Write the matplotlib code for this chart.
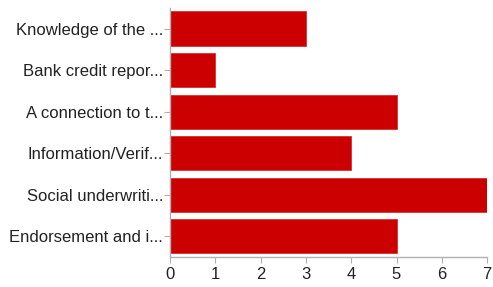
import matplotlib
matplotlib.use("Agg")
from matplotlib import pyplot as plt

# bar chart of responses (top to bottom)
labels = ["Knowledge of the ...", "Bank credit repor...", "A connection to t...",
          "Information/Verif...", "Social underwriti...", "Endorsement and i..."]
counts = [3, 1, 5, 4, 7, 5]
xticks = [0, 1, 2, 3, 4, 5, 6, 7]

plt.rcParams['font.family'] = ['Liberation Sans', 'DejaVu Sans']

fig = plt.figure(figsize=(4.93, 2.87), dpi=100)
ax = fig.add_axes([0.345, 0.105, 0.643, 0.868])

ypos = list(range(len(labels)))
ax.barh(ypos, counts, height=0.82, color='#cc0000', edgecolor='#d83030', linewidth=0.6)
ax.set_ylim(len(labels) - 0.5, -0.5)
ax.set_xlim(0, 7)
ax.set_yticks(ypos)
ax.set_yticklabels(labels)
ax.set_xticks(xticks)

for s in ['top', 'right']:
    ax.spines[s].set_visible(False)
for s in ['left', 'bottom']:
    ax.spines[s].set_color('#b0b0b0')
    ax.spines[s].set_linewidth(1.0)
ax.tick_params(axis='both', colors='#b0b0b0', labelcolor='#222222', labelsize=12, length=4)
ax.tick_params(axis='x', pad=3)
ax.tick_params(axis='y', pad=1)

fig.savefig("out.png", dpi=100)
